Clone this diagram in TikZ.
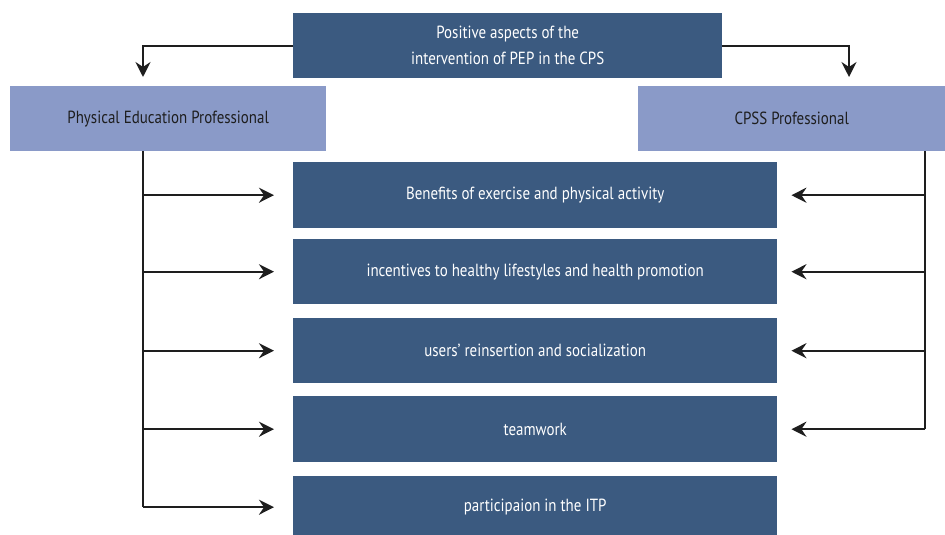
\documentclass[tikz,border=0pt]{standalone}
\usepackage{fontspec}
\setmainfont[FakeStretch=0.85]{PT Sans}
\usetikzlibrary{arrows.meta}
\definecolor{darkbox}{HTML}{3B5A80}
\definecolor{lightbox}{HTML}{8A9AC8}
\definecolor{ink}{HTML}{1E1E1E}
\begin{document}
\begin{tikzpicture}[x=1pt,y=-1pt,
  box/.style={draw=none,inner sep=0pt,anchor=north west},
  darkb/.style={box,fill=darkbox,text=white,font=\fontsize{17.6}{26}\selectfont,align=center},
  lightb/.style={box,fill=lightbox,text=ink,font=\fontsize{17.6}{20}\selectfont,align=center},
  line/.style={draw=ink,line width=2.2pt},
  arr/.style={line,-{Stealth[length=15pt,width=15pt,inset=5pt]}}]
\useasboundingbox (0,0) rectangle (945,535);
% header and the two professional groups
\node[darkb,minimum width=429pt,minimum height=65pt] (top) at (293,13)
  {Positive aspects of the\\intervention of PEP in the CPS};
\node[lightb,minimum width=316pt,minimum height=65pt] (pe) at (10,86) {Physical Education Professional};
\node[lightb,minimum width=307pt,minimum height=65pt] (cp) at (638,86) {CPSS Professional};
% aspects
\node[darkb,minimum width=484pt,minimum height=66pt] (b1) at (293,162) {Benefits of exercise and physical activity};
\node[darkb,minimum width=484pt,minimum height=65pt] (b2) at (293,239) {incentives to healthy lifestyles and health promotion};
\node[darkb,minimum width=484pt,minimum height=65pt] (b3) at (293,318) {users’ reinsertion and socialization};
\node[darkb,minimum width=484pt,minimum height=66pt] (b4) at (293,396) {teamwork};
\node[darkb,minimum width=484pt,minimum height=62pt] (b5) at (293,476) {participaion in the ITP};
% trunks
\coordinate (lt) at (143,151);
\coordinate (rt) at (925,151);
\coordinate (lc) at (143,46);
\coordinate (rc) at (849,46);
% header connectors
\draw[arr,shorten >=9pt] (top.west |- lc) -- (lc) -- (lc |- pe.north);
\draw[arr,shorten >=9pt] (top.east |- rc) -- (rc) -- (rc |- cp.north);
% left trunk
\draw[line] (lt) -- (lt |- b5.west);
\foreach \b in {b1,b2,b3,b4,b5}
  \draw[arr,shorten >=19pt] (lt |- \b.west) -- (\b.west);
% right trunk
\draw[line] (rt) -- (rt |- b4.east);
\foreach \b in {b1,b2,b3,b4}
  \draw[arr,shorten >=14pt] (rt |- \b.east) -- (\b.east);
\end{tikzpicture}
\end{document}
